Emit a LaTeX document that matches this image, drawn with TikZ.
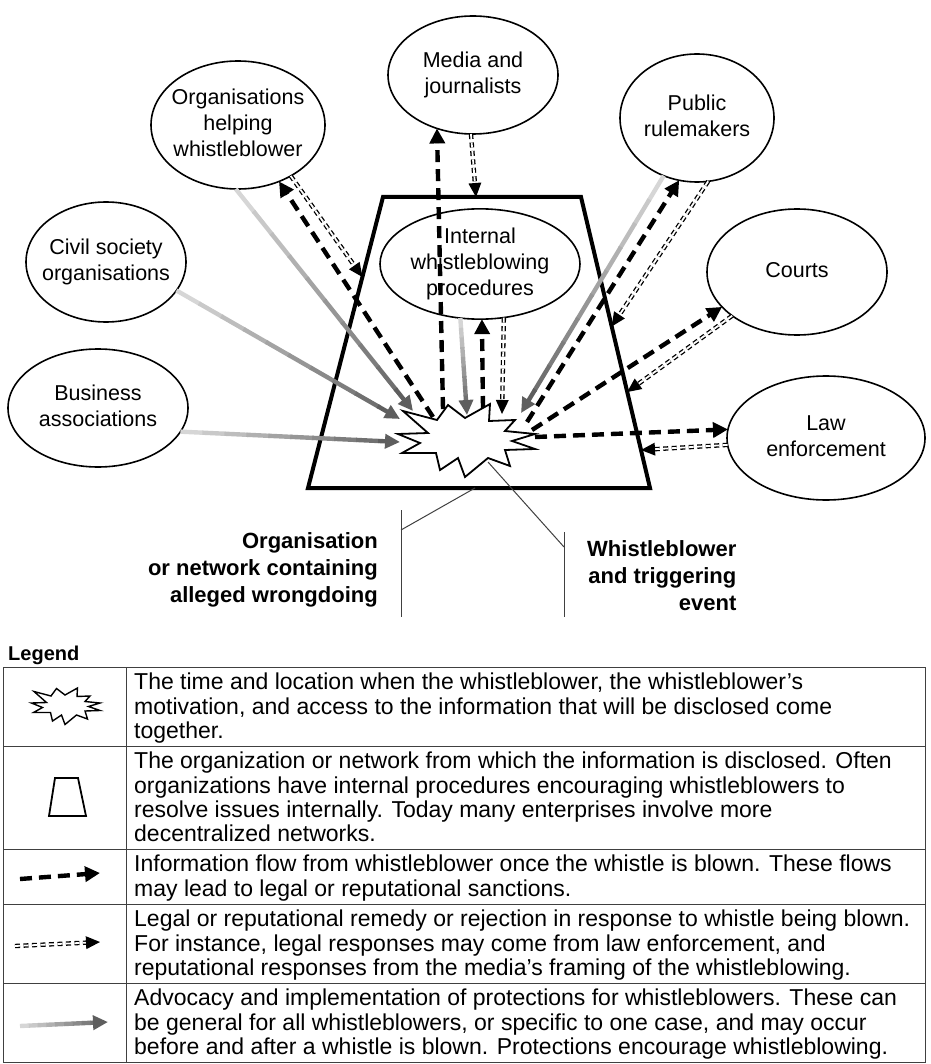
\documentclass[tikz,border=0pt]{standalone}
\usepackage{fontspec}
\setmainfont{Liberation Sans}
\usetikzlibrary{arrows.meta,shapes.geometric,calc,decorations.markings}

\newcommand\ctext[1]{\makebox[0pt]{\begin{tabular}{@{}c@{}}#1\end{tabular}}}
\newcommand\burstpts{(-69,-6) -- (-39,-7) -- (-64,-29) -- (-30,-20) -- (-19,-35) -- (-2,-22) -- (23,-36) -- (22,-19) -- (48,-20) -- (38,-9) -- (68,-6) -- (45,1) -- (68,9) -- (38,10) -- (43,26) -- (21,18) -- (-2,37) -- (-9,18) -- (-27,30) -- (-31,13) -- (-65,13) -- (-47,3) -- cycle}
\newcommand\protarrow[2]{%
  \foreach \pi@x in {0,...,8}{%
    \pgfmathsetmacro\protA{\pi@x/10}%
    \pgfmathsetmacro\protB{(\pi@x+1)/10+0.006}%
    \pgfmathtruncatemacro\protC{16+\pi@x*5}%
    \draw[protseg, draw=black!\protC] ($(#1)!\protA!(#2)$) -- ($(#1)!\protB!(#2)$);
  }%
  \draw[protseg, draw=black!63, -{Triangle[length=15pt,width=14pt]}] ($(#1)!0.9!(#2)$) -- (#2);
}
\makeatletter
\renewcommand\protarrow[2]{%
  \foreach \protI in {0,...,8}{%
    \pgfmathsetmacro\protA{\protI/10}%
    \pgfmathsetmacro\protB{(\protI+1)/10+0.006}%
    \pgfmathtruncatemacro\protC{16+\protI*5}%
    \draw[protseg, draw=black!\protC] ($(#1)!\protA!(#2)$) -- ($(#1)!\protB!(#2)$);
  }%
  \draw[protseg, draw=black!63, -{Triangle[length=15pt,width=14pt]}] ($(#1)!0.9!(#2)$) -- (#2);
}
\makeatother

\tikzset{
  ell/.style={draw, line width=1.6pt, ellipse, fill=white, inner sep=0pt, outer sep=0pt,
    font=\fontsize{21.5}{26}\selectfont},
  info/.style={line width=4.4pt, dash pattern=on 12pt off 7pt,
    -{Triangle[length=15pt,width=15pt]}},
  resp/.style={draw=none,
    postaction={draw, line width=1.3pt, double=white, double distance=1.8pt,
      dash pattern=on 5pt off 3.5pt, shorten >=12pt},
    postaction={decorate, decoration={markings,
      mark=at position 1 with {\fill (0pt,0pt) -- (-14pt,6.5pt) -- (-14pt,-6.5pt) -- cycle;}}}},
  protseg/.style={line width=4.4pt},
  lab/.style={font=\fontsize{22}{27}\selectfont\bfseries, inner sep=0pt},
  thinline/.style={line width=1pt, draw=black!75},
  burst/.style={line width=1.8pt, fill=white, line join=miter, miter limit=20},
  legtext/.style={font=\fontsize{23}{24.3}\selectfont, inner sep=0pt, align=left, anchor=north west},
  grid/.style={line width=1pt, draw=black!75}
}

\begin{document}
\begin{tikzpicture}[x=1pt,y=-1pt]
\useasboundingbox (0,0) rectangle (930,1064);

% organisation trapezoid
\coordinate (TL) at (383,197);
\coordinate (TR) at (581,197);
\coordinate (BR) at (650,488);
\coordinate (BL) at (308,488);
\draw[line width=4pt, line join=miter] (TL) -- (TR) -- (BR) -- (BL) -- cycle;

% actors
\node[ell, minimum width=170pt, minimum height=118pt] (media) at (473,75) {\ctext{Media and\\journalists}};
\node[ell, minimum width=174pt, minimum height=128pt] (orghelp) at (238,125) {\ctext{Organisations\\helping\\whistleblower}};
\node[ell, minimum width=154pt, minimum height=128pt] (rule) at (697,118) {\ctext{Public\\rulemakers}};
\node[ell, minimum width=160pt, minimum height=120pt] (civil) at (106,262) {\ctext{Civil society\\organisations}};
\node[ell, minimum width=180pt, minimum height=126pt] (courts) at (797,272) {\ctext{Courts}};
\node[ell, minimum width=180pt, minimum height=118pt] (business) at (98,408) {\ctext{Business\\associations}};
\node[ell, minimum width=198pt, minimum height=124pt] (law) at (826,438) {\ctext{Law\\enforcement}};
\node[ell, minimum width=200pt, minimum height=106pt] (int) at (480,264) {\ctext{Internal\\whistleblowing\\procedures}};

% whistleblower burst
\begin{scope}[shift={(467,440)}]
  \draw[burst] \burstpts;
\end{scope}

% points on the burst
\coordinate (sMedia) at (443,409);
\coordinate (sIntI) at (483,408);
\coordinate (sIntR) at (502,414);
\coordinate (sIntP) at (467,415);
\coordinate (sOHp) at (413,411);
\coordinate (sOHi) at (433,417);
\coordinate (sCS) at (400,419);
\coordinate (sBus) at (400,442);
\coordinate (sRp) at (521,413);
\coordinate (sRi) at (527,422);
\coordinate (sCo) at (532,430);
\coordinate (sLaw) at (535,437);
\coordinate (sLab) at (488,462);

% points on the trapezoid
\coordinate (tTop) at (476,197);
\coordinate (tLeft) at (362.4,277);
\coordinate (tRight1) at (611.7,326.5);
\coordinate (tRight2) at (627.2,392);
\coordinate (tRight3) at (641,450);
\coordinate (tBot) at (475,488);

% protections (grey)
\protarrow{orghelp.-92}{sOHp}
\protarrow{civil.-22}{sCS}
\protarrow{business.-16}{sBus}
\protarrow{int.-110}{sIntP}
\protarrow{rule.-120}{sRp}

% information flows
\draw[info] (sMedia) -- (media.-124);
\draw[info] (sIntI) -- (int.-88);
\draw[info] (sOHi) -- (orghelp.-54);
\draw[info] (sRi) -- (rule.-106);
\draw[info] (sCo) -- (courts.-155);
\draw[info] (sLaw) -- (law.175);

% responses
\path[resp] (media.-92) -- (tTop);
\path[resp] (int.-66) -- (sIntR);
\path[resp] (orghelp.-44) -- (tLeft);
\path[resp] (rule.-80) -- (tRight1);
\path[resp] (courts.-146) -- (tRight2);
\path[resp] (law.184) -- (tRight3);

% labels below
\coordinate (vL1) at (401,510);
\coordinate (vL2) at (401,617);
\coordinate (vLk) at (401,530);
\coordinate (vR1) at (564,532);
\coordinate (vR2) at (564,617);
\coordinate (vRk) at (564,547);
\draw[thinline] (vL1) -- (vL2);
\draw[thinline] (vLk) -- (tBot);
\draw[thinline] (vR1) -- (vR2);
\draw[thinline] (vRk) -- (sLab);
\node[lab, anchor=east, align=right] (orgLab) at (378,570) {Organisation\\or network containing\\alleged wrongdoing};
\node[lab, anchor=west, align=right] (wbLab) at (587,576) {Whistleblower\\and triggering\\event};

% legend
\node[font=\fontsize{20}{24}\selectfont\bfseries, inner sep=0pt, anchor=base west] (legTitle) at (8,660) {Legend};
\draw[grid] (3,667) rectangle (925,1062);
\draw[grid] (126,667) -- (126,1062);
\draw[grid] (3,746) -- (925,746);
\draw[grid] (3,849) -- (925,849);
\draw[grid] (3,904) -- (925,904);
\draw[grid] (3,983) -- (925,983);

\begin{scope}[shift={(66,706)}, scale=0.5]
  \draw[burst, line width=1.4pt] \burstpts;
\end{scope}
\draw[line width=1.8pt, line join=miter] (55,778) -- (78,778) -- (86,816) -- (49,816) -- cycle;
\coordinate (lgI1) at (20,879);
\coordinate (lgI2) at (100,873);
\draw[info] (lgI1) -- (lgI2);
\coordinate (lgR1) at (15,946);
\coordinate (lgR2) at (100,942);
\path[resp] (lgR1) -- (lgR2);
\coordinate (lgP1) at (20,1026);
\coordinate (lgP2) at (108,1022);
\protarrow{lgP1}{lgP2}

\node[legtext] (lt1) at (134,673) {The time and location when the whistleblower, the whistleblower’s\\motivation, and access to the information that will be disclosed come\\together.};
\node[legtext] (lt2) at (134,752) {The organization or network from which the information is disclosed. Often\\organizations have internal procedures encouraging whistleblowers to\\resolve issues internally. Today many enterprises involve more\\decentralized networks.};
\node[legtext] (lt3) at (134,855) {Information flow from whistleblower once the whistle is blown. These flows\\may lead to legal or reputational sanctions.};
\node[legtext] (lt4) at (134,910) {Legal or reputational remedy or rejection in response to whistle being blown.\\For instance, legal responses may come from law enforcement, and\\reputational responses from the media’s framing of the whistleblowing.};
\node[legtext] (lt5) at (134,989) {Advocacy and implementation of protections for whistleblowers. These can\\be general for all whistleblowers, or specific to one case, and may occur\\before and after a whistle is blown. Protections encourage whistleblowing.};
\end{tikzpicture}
\end{document}
